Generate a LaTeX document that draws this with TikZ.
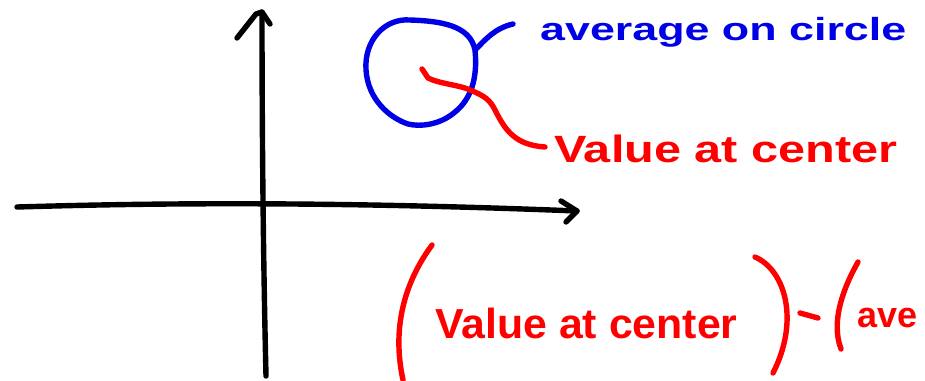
\documentclass[tikz,border=0pt]{standalone}
\usepackage{fontspec}
\setmainfont{Liberation Sans}
\usepackage{graphicx}
\definecolor{penblue}{RGB}{0,0,230}
\definecolor{penred}{RGB}{255,0,0}
\tikzset{
  pen/.style={line width=5.4pt, line cap=round, line join=round},
  lbl/.style={inner sep=0pt, anchor=base west, font=\bfseries},
}
\begin{document}
\begin{tikzpicture}[x=1pt,y=-1pt]
\useasboundingbox (0,0) rectangle (925,380);
\clip (0,0) rectangle (925,380);
% axes
\coordinate (vb) at (266,376);
\coordinate (vt) at (262,12);
\draw[pen,black] (vb) .. controls (263,250) and (262,120) .. (vt);
\coordinate (vl) at (237,38);
\coordinate (vr) at (270,24);
\draw[pen,black] (vl) -- (256,14) -- (vt) -- (vr);
\coordinate (hl) at (17,207);
\coordinate (hr) at (577,211);
\draw[pen,black] (hl) .. controls (120,204) and (300,200) .. (hr);
\coordinate (ha) at (561,201);
\coordinate (hb) at (566,222);
\draw[pen,black] (ha) -- (hr) -- (hb);
% circle
\coordinate (circ) at (421,72);
\draw[pen,penblue] (366,70) .. controls (364,40) and (385,18) .. (410,20) .. controls (440,21) and (470,25) .. (475,50) .. controls (478,80) and (470,100) .. (455,112) .. controls (440,125) and (420,127) .. (408,124) .. controls (390,118) and (368,100) .. (366,70);
% blue connector
\coordinate (bc1) at (476,49);
\coordinate (bc2) at (513,24);
\draw[pen,penblue] (bc1) .. controls (485,40) and (495,28) .. (bc2);
\node[lbl, text=penblue] (avg) at (540,40) {\scalebox{1.4}[1]{\fontsize{32}{36}\selectfont average on circle}};
% red connector
\coordinate (rd) at (422,69);
\coordinate (re) at (545,147);
\draw[pen,penred] (rd) -- (428,78) .. controls (440,84) and (460,85) .. (470,90) .. controls (485,96) and (490,100) .. (495,110) .. controls (505,130) and (515,145) .. (re);
\node[lbl, text=penred] (val) at (554,162) {\scalebox{1.28}[1]{\fontsize{38}{42}\selectfont Value at center}};
% bottom expression
\coordinate (p1t) at (432,245);
\coordinate (p1b) at (403,380);
\draw[pen,penred] (p1t) .. controls (410,275) and (390,320) .. (p1b);
\node[lbl, text=penred] (val2) at (435,338) {\scalebox{1.02}[1]{\fontsize{42}{46}\selectfont Value at center}};
\coordinate (p2t) at (755,257);
\coordinate (p2b) at (773,373);
\draw[pen,penred] (p2t) .. controls (785,270) and (800,320) .. (p2b);
\coordinate (ma) at (800,313);
\coordinate (mb) at (818,318);
\draw[pen,penred] (ma) -- (mb);
\coordinate (p3t) at (858,262);
\coordinate (p3b) at (841,349);
\draw[pen,penred] (p3t) .. controls (845,285) and (830,320) .. (p3b);
\node[lbl, text=penred] (avg2) at (857,327) {\fontsize{36}{40}\selectfont ave};
\end{tikzpicture}
\end{document}
